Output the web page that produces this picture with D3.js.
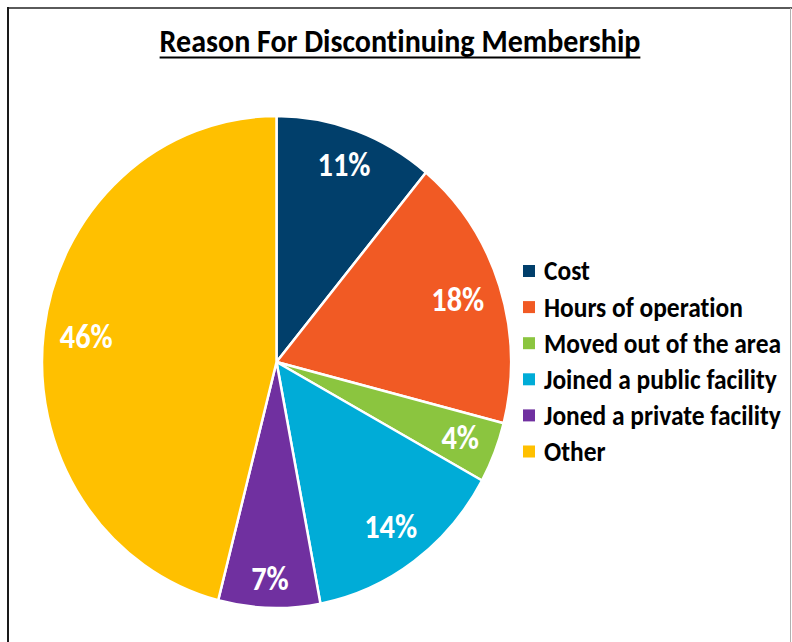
<!DOCTYPE html>
<html>
<head>
<meta charset="utf-8">
<script src="https://cdn.jsdelivr.net/npm/d3@7"></script>
<style>
  html, body { margin: 0; padding: 0; background: #fff; }
  svg { display: block; }
  text {
    font-family: Carlito, Calibri, Lato, "Noto Sans", sans-serif;
    font-weight: 700;
    font-variant-ligatures: none;
    font-feature-settings: "liga" 0, "clig" 0;
  }
</style>
</head>
<body>
<svg id="chart" width="792" height="642"></svg>
<script>
// Survey results: share of members by reason for leaving
const title = "Reason For Discontinuing Membership";
const categories = ["Cost", "Hours of operation", "Moved out of the area",
                    "Joined a public facility", "Joned a private facility", "Other"];
const values = [11, 18, 4, 14, 7, 46];
const colors = ["#013F6B", "#F15A24", "#8BC53F", "#00ACD7", "#7030A0", "#FFC000"];

const svg = d3.select("#chart");
const W = 792, H = 642;
const textStretch = 1.1; // taller glyphs than the fallback face draws

// frame around the chart area
svg.append("line").attr("x1", 7).attr("x2", W).attr("y1", 8).attr("y2", 8)
  .attr("stroke", "#5a5a5a").attr("stroke-width", 2);
svg.append("line").attr("x1", 8).attr("x2", 8).attr("y1", 7).attr("y2", H)
  .attr("stroke", "#1a1a1a").attr("stroke-width", 2);
svg.append("line").attr("x1", 790.5).attr("x2", 790.5).attr("y1", 8).attr("y2", H)
  .attr("stroke", "#b0b0b0").attr("stroke-width", 1);

// title, fitted to its width and underlined
const titleG = svg.append("g").attr("transform", `translate(400,52) scale(1,${textStretch})`);
const titleText = titleG.append("text")
  .attr("x", 0).attr("y", 0)
  .attr("text-anchor", "middle")
  .attr("fill", "#000")
  .style("font-size", "26px")
  .text(title);
const tw = titleText.node().getComputedTextLength();
titleText.style("font-size", (26 * 481 / tw) + "px");
const tw2 = titleText.node().getComputedTextLength();
svg.append("line")
  .attr("x1", 400 - tw2 / 2).attr("x2", 400 + tw2 / 2)
  .attr("y1", 57.5).attr("y2", 57.5)
  .attr("stroke", "#000").attr("stroke-width", 2);

// pie (slightly taller than wide)
const cx = 276.5, cy = 362, rx = 234.5, ry = 246;
const sy = ry / rx;
const pie = d3.pie().sort(null).value(d => d.value).startAngle(0).endAngle(2 * Math.PI);
const data = pie(categories.map((c, i) => ({ name: c, value: values[i], color: colors[i] })));
const arc = d3.arc().innerRadius(0).outerRadius(rx);

const g = svg.append("g").attr("transform", `translate(${cx},${cy}) scale(1,${sy})`);
g.selectAll("path").data(data).join("path")
  .attr("d", arc)
  .attr("fill", d => d.data.color)
  .attr("stroke", "#fff")
  .attr("stroke-width", 2.5)
  .attr("vector-effect", "non-scaling-stroke")
  .attr("stroke-linejoin", "round");

// percentage labels, placed inside the outer edge of each slice
const fmt = d => d3.format(".0%")(d.value / d3.sum(values));
const pctGroups = data.map(d => {
  const lg = svg.append("g");
  const t = lg.append("text")
    .attr("text-anchor", "middle")
    .attr("dominant-baseline", "central")
    .attr("fill", "#fff")
    .style("font-size", "27px")
    .text(fmt(d));
  return { d, lg, t };
});
// size so that a three-character label spans about 53px
const refW = pctGroups[0].t.node().getComputedTextLength();
const pctSize = 27 * 53 / refW;
pctGroups.forEach(({ d, lg, t }) => {
  t.style("font-size", pctSize + "px");
  const bb = t.node().getBBox();
  const hw = bb.width / 2, hh = 12;
  const a = (d.startAngle + d.endAngle) / 2;
  const s = Math.sin(a), c = Math.cos(a);
  const dist = (rx - 15) - (hw * Math.abs(s) + hh * Math.abs(c));
  lg.attr("transform", `translate(${cx + dist * s},${cy - dist * c * sy}) scale(1,${textStretch})`);
});

// legend
const rows = svg.append("g").selectAll("g").data(categories).join("g")
  .attr("transform", (d, i) => `translate(523, ${271 + i * 36.1})`);
rows.append("rect").attr("x", 0).attr("y", -6).attr("width", 12).attr("height", 12)
  .attr("fill", (d, i) => colors[i]);
const labels = rows.append("text")
  .attr("transform", `translate(21,0) scale(1,${textStretch})`)
  .attr("dominant-baseline", "central")
  .attr("fill", "#000")
  .style("font-size", "21px")
  .text(d => d);
const longest = labels.nodes()[2].getComputedTextLength();
labels.style("font-size", (21 * 237 / longest) + "px");
</script>
</body>
</html>
